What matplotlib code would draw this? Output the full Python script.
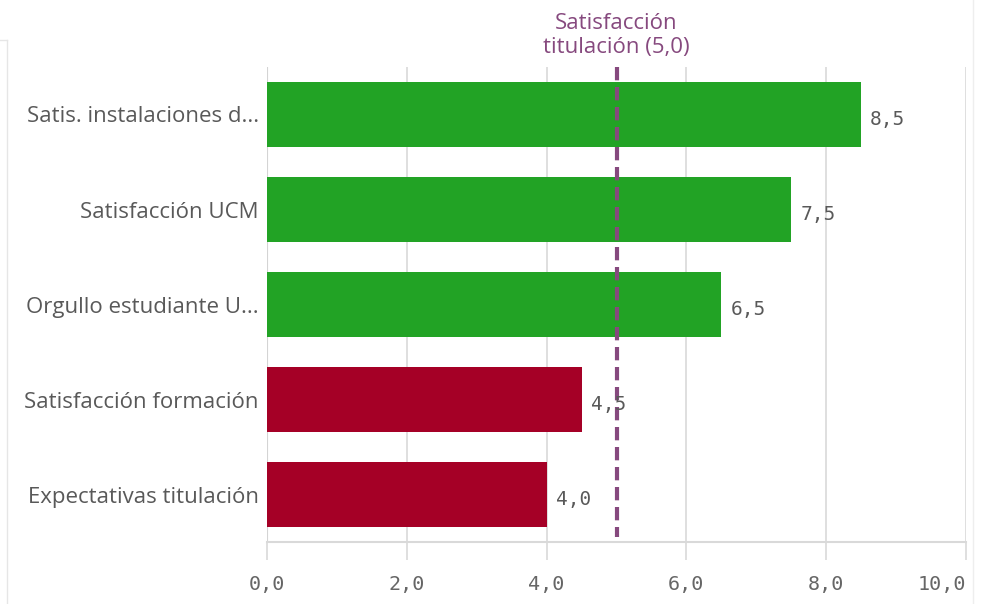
import matplotlib
matplotlib.use("Agg")
import matplotlib.pyplot as plt
from matplotlib.lines import Line2D

categories = [
    "Satis. instalaciones d...",
    "Satisfacción UCM",
    "Orgullo estudiante U...",
    "Satisfacción formación",
    "Expectativas titulación",
]
scores = [8.5, 7.5, 6.5, 4.5, 4.0]
reference_value = 5.0
reference_label = "Satisfacción\ntitulación (5,0)"
x_ticks = [0, 2, 4, 6, 8, 10]

GREEN = "#22a325"
RED = "#a50026"
PURPLE = "#86497e"
TEXT_GRAY = "#595959"
GRID_GRAY = "#d9d9d9"


def fmt(value: float) -> str:
    return f"{value:.1f}".replace(".", ",")


fig = plt.figure(figsize=(9.86, 6.04), dpi=100)
ax = fig.add_axes([267 / 986, 1 - 542 / 604, 699 / 986, 475 / 604])

positions = list(range(len(categories)))
colors = [GREEN if s >= reference_value else RED for s in scores]
ax.barh(positions, scores, height=0.69, color=colors, zorder=2)

ax.set_xlim(0, 10)
ax.set_ylim(len(categories) - 0.5, -0.5)
ax.set_yticks(positions)
ax.set_yticklabels(categories, fontsize=16, color=TEXT_GRAY, family="Open Sans")
ax.tick_params(axis="y", length=0, pad=6)

ax.set_xticks(x_ticks)
tick_labels = ax.set_xticklabels([fmt(t) for t in x_ticks], fontsize=14.5,
                                 color="#666666", family="DejaVu Sans Mono")
tick_labels[-1].set_horizontalalignment("right")
ax.tick_params(axis="x", length=13, width=1.2, color=GRID_GRAY, pad=11)

ax.grid(axis="x", color=GRID_GRAY, linewidth=1.2, zorder=0)
for side in ["top", "right", "left"]:
    ax.spines[side].set_visible(False)
ax.spines["bottom"].set_color(GRID_GRAY)
ax.spines["bottom"].set_linewidth(1.5)
ax.axvline(0, color="#bfbfbf", linewidth=1.5, zorder=1)

for pos, value in zip(positions, scores):
    ax.text(value + 0.13, pos + 0.05, fmt(value), va="center", ha="left",
            fontsize=14, color=TEXT_GRAY, family="DejaVu Sans Mono", zorder=4)

ax.plot([reference_value, reference_value], [-0.5, 4.45], color=PURPLE,
        linewidth=3, linestyle=(0, (3.2, 1.6)), zorder=3, clip_on=False)
ax.text(reference_value, -0.6, reference_label, ha="center", va="bottom",
        fontsize=16, color=PURPLE, family="Open Sans", linespacing=1.15)

# thin frame edges around the panel
fig.add_artist(Line2D([7 / 986, 7 / 986], [0, 1 - 40 / 604], color="#e6e6e6", linewidth=1))
fig.add_artist(Line2D([0, 7 / 986], [1 - 40 / 604, 1 - 40 / 604], color="#e6e6e6", linewidth=1))
fig.add_artist(Line2D([973 / 986, 973 / 986], [0, 1], color="#eeeeee", linewidth=1))

fig.savefig("out.png", dpi=100)
